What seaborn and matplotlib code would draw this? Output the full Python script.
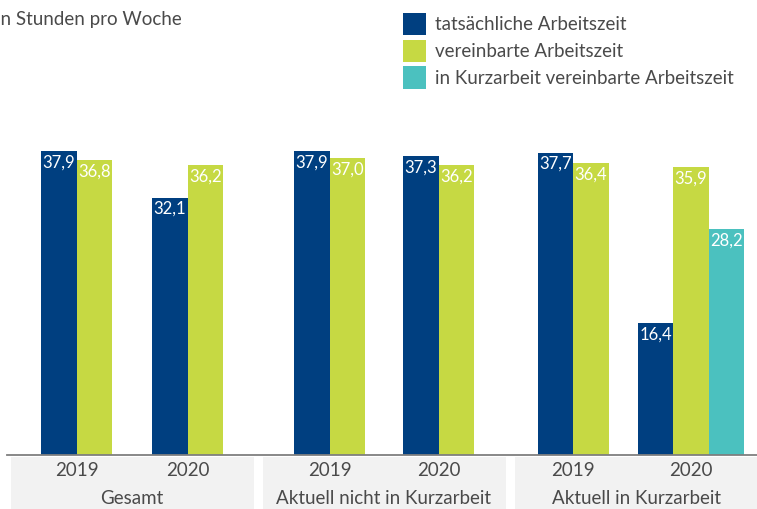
import pandas as pd
import numpy as np
import matplotlib
matplotlib.use('Agg')
from matplotlib import pyplot as plt
from matplotlib.patches import Patch, Rectangle
from matplotlib.transforms import blended_transform_factory
import seaborn as sns

# Data (hours per week)
groups = ['Gesamt', 'Aktuell nicht in Kurzarbeit', 'Aktuell in Kurzarbeit']
years = ['2019', '2020']
series = ['tatsächliche Arbeitszeit', 'vereinbarte Arbeitszeit',
          'in Kurzarbeit vereinbarte Arbeitszeit']
tatsaechlich = [37.9, 32.1, 37.9, 37.3, 37.7, 16.4]
vereinbart = [36.8, 36.2, 37.0, 36.2, 36.4, 35.9]
kurzarbeit = [None, None, None, None, None, 28.2]

colors = ['#003f80', '#c6d943', '#4bc1bf']
text_grey = '#4a4a4a'

# Layout (x axis measured in figure pixels)
W, H = 757, 509
bar_w = 35.5
group_centers = [132, 384, 641]
box_centers = [132, 384, 636]
box_w = 243
cluster_gap = [40, 38, 29]
baseline_px = 455
top_px = 100
px_per_unit = 8.02
fs = 13.5

sns.set_style('white')
plt.rcParams['font.family'] = ['Lato', 'DejaVu Sans']

# Build long table with a bar position for every value
rows = []
year_centers = []
values = [tatsaechlich, vereinbart, kurzarbeit]
for g, grp in enumerate(groups):
    counts = []
    for y in range(len(years)):
        k = g * len(years) + y
        counts.append(sum(values[s][k] is not None for s in range(len(series))))
    span = sum(counts) * bar_w + cluster_gap[g]
    start = group_centers[g] - span / 2
    for y, yr in enumerate(years):
        k = g * len(years) + y
        left = start + sum(counts[:y]) * bar_w + y * cluster_gap[g]
        year_centers.append(left + counts[y] * bar_w / 2)
        i = 0
        for s, name in enumerate(series):
            v = values[s][k]
            if v is None:
                continue
            rows.append({'Gruppe': grp, 'Jahr': yr, 'Serie': name,
                         'Stunden': v, 'xpos': left + (i + 0.5) * bar_w})
            i += 1
df = pd.DataFrame(rows)

fig = plt.figure(figsize=(W / 100, H / 100), dpi=100)
ax = fig.add_axes([0, (H - baseline_px) / H, 1, (baseline_px - top_px) / H])

sns.barplot(data=df, x='xpos', y='Stunden', hue='Serie', hue_order=series,
            palette=colors, saturation=1, native_scale=True, dodge=False,
            width=1.0, errorbar=None, legend=False, linewidth=0, ax=ax)

ax.set_xlim(0, W)
ax.set_ylim(0, (baseline_px - top_px) / px_per_unit)
ax.set_xlabel('')
ax.set_ylabel('')
ax.set_yticks([])
ax.grid(False)
for side in ['left', 'right', 'top']:
    ax.spines[side].set_visible(False)
ax.spines['bottom'].set_color('#7f7f7f')
ax.spines['bottom'].set_linewidth(1.3)
ax.spines['bottom'].set_bounds(7, W)

# Value labels inside the bars
for cont in ax.containers:
    for rect in cont:
        h = rect.get_height()
        if np.isnan(h):
            continue
        ax.annotate(f'{h:.1f}'.replace('.', ','),
                    (rect.get_x() + rect.get_width() / 2, h),
                    xytext=(0, -2.5), textcoords='offset points',
                    ha='center', va='top', color='white', fontsize=12)

# Year tick labels
ax.set_xticks(year_centers)
ax.set_xticklabels(years * len(groups), color=text_grey, fontsize=fs)
ax.tick_params(axis='x', length=0, pad=5)

# Grey group boxes and group labels
trans = blended_transform_factory(ax.transData, fig.transFigure)
box_top = (H - 457) / H
for c, grp in zip(box_centers, groups):
    ax.add_patch(Rectangle((c - box_w / 2, 0), box_w, box_top, transform=trans,
                           facecolor='#f2f2f2', edgecolor='none',
                           clip_on=False, zorder=0))
    ax.text(c, (H - 498) / H, grp, transform=trans, ha='center', va='center',
            color=text_grey, fontsize=fs)

# Unit title (cut at the left edge like the source)
fig.text(-4.5 / W, 1 - 19 / H, 'in Stunden pro Woche', ha='left', va='center',
         color=text_grey, fontsize=fs)

# Legend
handles = [Patch(facecolor=c, edgecolor='none') for c in colors]
fig.legend(handles, series, loc='upper left',
           bbox_to_anchor=(403 / W, 1 - 13 / H), bbox_transform=fig.transFigure,
           frameon=False, borderpad=0, borderaxespad=0,
           handlelength=1.23, handleheight=1.443, handletextpad=0.48,
           labelspacing=0.24, fontsize=fs, labelcolor=text_grey)

fig.savefig('out.png', dpi=100)
